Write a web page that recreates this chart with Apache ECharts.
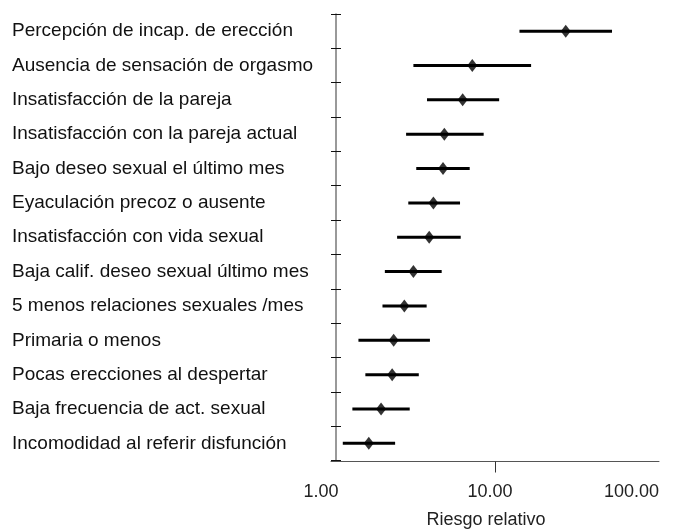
<!DOCTYPE html>
<html>
<head>
<meta charset="utf-8">
<style>html,body{margin:0;padding:0;background:#fff;}#c{width:674px;height:531px;}</style>
<script src="https://cdn.jsdelivr.net/npm/echarts@6/dist/echarts.min.js"></script>
</head>
<body>
<div id="c"></div>
<script>
const categories = [
  "Percepción de incap. de erección",
  "Ausencia de sensación de orgasmo",
  "Insatisfacción de la pareja",
  "Insatisfacción con la pareja actual",
  "Bajo deseo sexual el último mes",
  "Eyaculación precoz o ausente",
  "Insatisfacción con vida sexual",
  "Baja calif. deseo sexual último mes",
  "5 menos relaciones sexuales /mes",
  "Primaria o menos",
  "Pocas erecciones al despertar",
  "Baja frecuencia de act. sexual",
  "Incomodidad al referir disfunción"
];
const riesgo = [27.0, 7.27, 6.35, 4.91, 4.82, 4.21, 3.97, 3.18, 2.80, 2.41, 2.36, 2.02, 1.70];
const inferior = [14.1, 3.18, 3.85, 2.87, 3.31, 2.96, 2.53, 2.13, 2.06, 1.47, 1.62, 1.35, 1.18];
const superior = [51.7, 16.6, 10.6, 8.53, 7.01, 6.12, 6.18, 4.73, 3.83, 4.01, 3.43, 3.02, 2.46];
const xTicks = [1, 10, 100];
const xTickLabels = ["1.00", "10.00", "100.00"];

const font = "'Liberation Sans', Arial, sans-serif";
const chart = echarts.init(document.getElementById('c'), null, {renderer: 'canvas'});

const ciData = categories.map((c, i) => [inferior[i], superior[i], c]);
const ptData = categories.map((c, i) => [riesgo[i], c]);

chart.setOption({
  animation: false,
  backgroundColor: '#ffffff',
  grid: {left: 331, right: 15, top: 14, height: 446.5, outerBoundsMode: 'none', containLabel: false},
  xAxis: {
    type: 'log',
    logBase: 10,
    min: 1,
    max: 100,
    offset: 1,
    splitLine: {show: false},
    axisLine: {show: true, onZero: false, lineStyle: {color: '#555', width: 1}},
    axisTick: {show: true, length: 11, lineStyle: {color: '#333'}, customValues: [10]},
    axisLabel: {
      margin: 22,
      fontFamily: font,
      fontSize: 18,
      color: '#222',
      customValues: xTicks,
      alignMaxLabel: 'right',
      formatter: function (v) {
        const i = xTicks.findIndex(t => Math.abs(t - v) < 1e-6);
        const s = i >= 0 ? xTickLabels[i] : v.toFixed(2);
        if (i === 0) return '{a|' + s + '}';
        if (i === 1) return '{b|' + s + '}';
        return s;
      },
      rich: {
        a: {fontFamily: font, fontSize: 18, color: '#222', padding: [0, 20, 0, 0]},
        b: {fontFamily: font, fontSize: 18, color: '#222', padding: [0, 10, 0, 0]}
      }
    },
    name: 'Riesgo relativo',
    nameLocation: 'middle',
    nameGap: 50,
    nameTextStyle: {fontFamily: font, fontSize: 18, color: '#222', padding: [0, 18, 0, 0]}
  },
  yAxis: [
    {
      type: 'category',
      data: categories,
      inverse: true,
      offset: -5,
      axisLine: {show: true, lineStyle: {color: '#777', width: 1.5}},
      axisTick: {show: true, length: 5, lineStyle: {color: '#111'}},
      axisLabel: {
        align: 'left',
        margin: 324,
        fontFamily: font,
        fontSize: 19,
        color: '#111'
      },
      splitLine: {show: false}
    },
    {
      type: 'category',
      data: categories,
      inverse: true,
      position: 'left',
      offset: -5,
      axisLine: {show: false},
      axisTick: {show: true, inside: true, length: 5, lineStyle: {color: '#111'}},
      axisLabel: {show: false},
      splitLine: {show: false}
    }
  ],
  series: [
    {
      type: 'custom',
      yAxisIndex: 0,
      data: ciData,
      encode: {x: [0, 1], y: 2},
      renderItem: function (params, api) {
        const cat = api.value(2);
        const p1 = api.coord([api.value(0), cat]);
        const p2 = api.coord([api.value(1), cat]);
        return {
          type: 'line',
          shape: {x1: p1[0], y1: p1[1], x2: p2[0], y2: p2[1]},
          style: {stroke: '#000', lineWidth: 3}
        };
      },
      z: 2
    },
    {
      type: 'scatter',
      yAxisIndex: 0,
      data: ptData,
      symbol: 'diamond',
      symbolSize: [10, 13],
      itemStyle: {color: '#000'},
      z: 3
    }
  ]
});
</script>
</body>
</html>
